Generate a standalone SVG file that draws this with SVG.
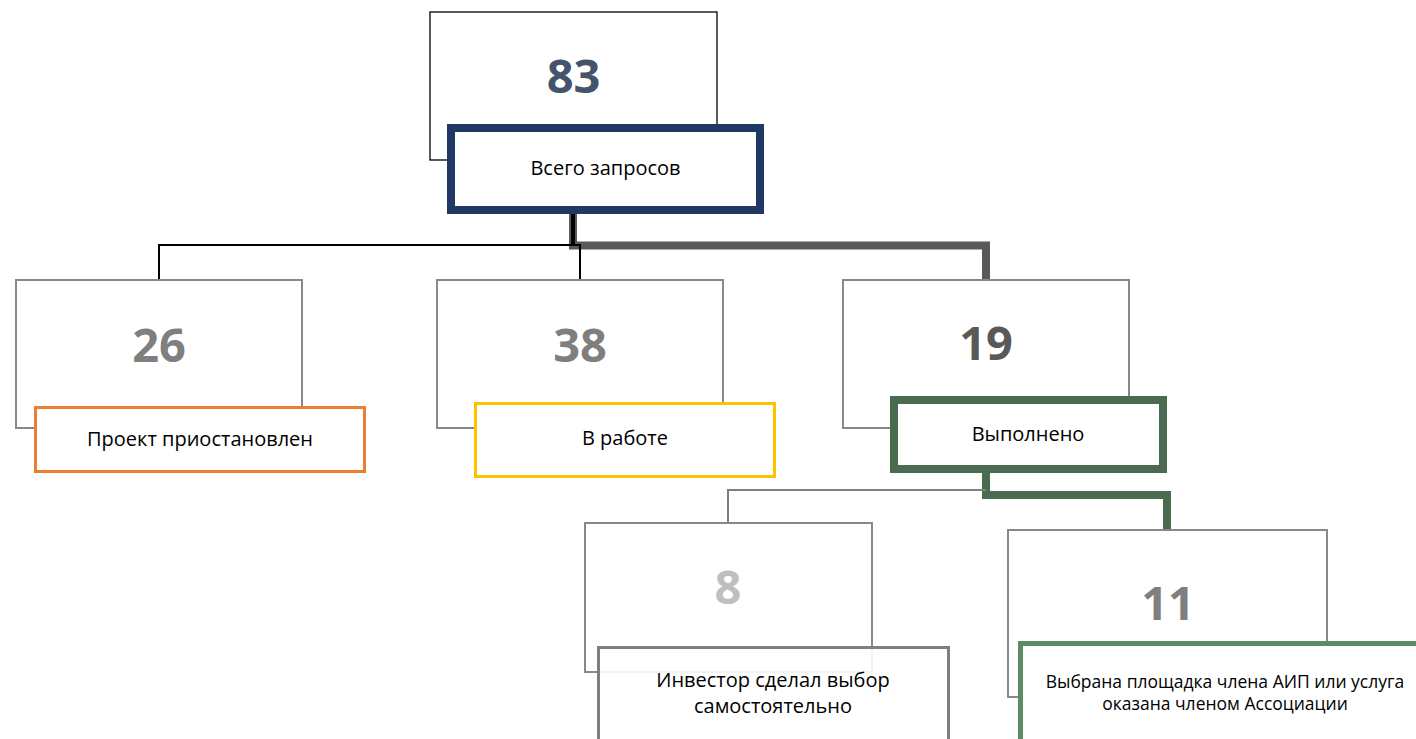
<svg xmlns="http://www.w3.org/2000/svg" width="1416" height="739" viewBox="0 0 1416 739">
<style>
.box{fill:#fff;stroke:#888;stroke-width:2}
.num{font-family:"Open Sans","Noto Sans",sans-serif;font-weight:bold;font-size:47px;text-anchor:middle}
.lbl{font-family:"Open Sans","Noto Sans",sans-serif;font-size:20px;fill:#000;text-anchor:middle}
.lbl18{font-family:"Open Sans","Noto Sans",sans-serif;font-size:17.5px;fill:#000;text-anchor:middle}
</style>
<rect width="1416" height="739" fill="#fff"/>
<g id="connectors" fill="none">
  <path d="M573 214 V245.5 H986 V280" stroke="#595959" stroke-width="8"/>
  <path d="M573 214 V245" stroke="#000" stroke-width="4"/>
  <path d="M159 280 V245 H580 V280" stroke="#000" stroke-width="2"/>
  <path d="M986 473 V495 H1167 V530" stroke="#4a6b50" stroke-width="8"/>
  <path d="M728 523 V490 H986" stroke="#7f7f7f" stroke-width="2"/>
</g>
<g id="node-total">
  <rect x="430" y="12" width="287" height="148" fill="#fff" stroke="#000" stroke-width="1.3"/>
  <text class="num" x="573.5" y="93" fill="#44546a">83</text>
  <rect x="451" y="128" width="309" height="82" fill="#fff" stroke="#203864" stroke-width="8"/>
  <text class="lbl" x="605.5" y="175">Всего запросов</text>
</g>
<g id="node-suspended">
  <rect class="box" x="16" y="280" width="286" height="148"/>
  <text class="num" x="159" y="362" fill="#7f7f7f">26</text>
  <rect x="35.5" y="407.5" width="329" height="64" fill="#fff" stroke="#ED7D31" stroke-width="3"/>
  <text class="lbl" x="200" y="446">Проект приостановлен</text>
</g>
<g id="node-inwork">
  <rect class="box" x="437" y="280" width="286" height="148"/>
  <text class="num" x="580" y="362" fill="#7f7f7f">38</text>
  <rect x="475.5" y="403.5" width="299" height="73" fill="#fff" stroke="#FFC000" stroke-width="3"/>
  <text class="lbl" x="625" y="445">В работе</text>
</g>
<g id="node-done">
  <rect class="box" x="843" y="280" width="286" height="148"/>
  <text class="num" x="986" y="360" fill="#595959">19</text>
  <rect x="894" y="400" width="269" height="69" fill="#fff" stroke="#4a6b50" stroke-width="8"/>
  <text class="lbl" x="1028" y="441">Выполнено</text>
</g>
<g id="node-self">
  <rect class="box" x="585" y="523" width="287" height="149"/>
  <text class="num" x="728" y="604" fill="#bfbfbf" font-size="45">8</text>
  <rect x="598.5" y="647.5" width="350" height="120" fill="#fff" fill-opacity="0.9" stroke="#7f7f7f" stroke-width="3"/>
  <text class="lbl" x="773" y="687">Инвестор сделал выбор</text>
  <text class="lbl" x="773" y="713">самостоятельно</text>
</g>
<g id="node-member">
  <rect class="box" x="1008" y="530" width="319" height="167"/>
  <text class="num" x="1168" y="620" fill="#7f7f7f">11</text>
  <rect x="1020.5" y="643.5" width="409" height="120" fill="#fff" stroke="#5b8a66" stroke-width="5"/>
  <text class="lbl18" x="1225" y="688">Выбрана площадка члена АИП или услуга</text>
  <text class="lbl18" x="1225" y="710">оказана членом Ассоциации</text>
</g>
</svg>
